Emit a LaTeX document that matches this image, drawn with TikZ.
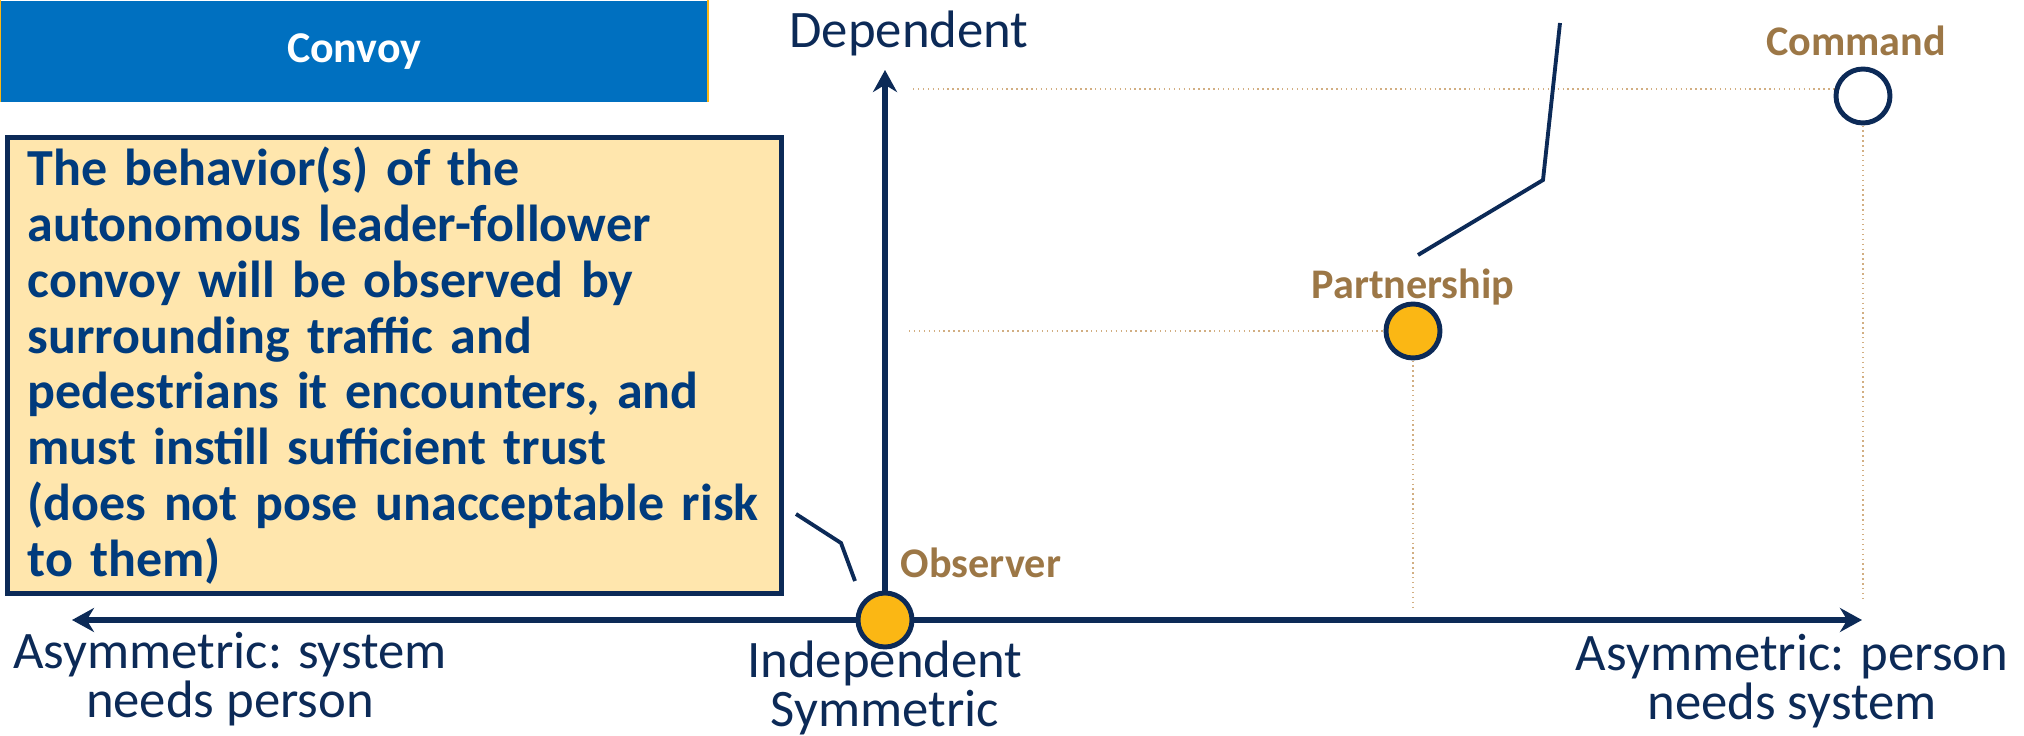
\documentclass[tikz,border=0pt]{standalone}
\usepackage{fontspec}
\setmainfont{Carlito}
\usetikzlibrary{arrows.meta}
\definecolor{navy}{HTML}{0C2A57}
\definecolor{boxblue}{HTML}{0070C0}
\definecolor{amber}{HTML}{FBB714}
\definecolor{tan}{HTML}{9C7746}
\definecolor{cream}{HTML}{FFE6AD}
\definecolor{textblue}{HTML}{003B7D}
\definecolor{guide}{HTML}{D2AE82}
\begin{document}
\begin{tikzpicture}[x=0.1mm,y=-0.1mm,inner sep=0,
	dot/.style={circle,draw=navy,line width=1.4pt,minimum size=5.4mm,fill=amber},
	mode/.style={text=tan,font=\fontsize{12}{14}\selectfont\bfseries},
	axislabel/.style={text=navy,align=center,font=\fontsize{15}{14}\selectfont},
	guideline/.style={guide,line width=0.4pt,densely dotted},
	callout/.style={navy,line width=1.1pt}]
		\useasboundingbox (0,0) rectangle (2024,736);
		\node[fill=boxblue,anchor=north west,minimum width=70.7mm,minimum height=10.1mm,text=white,font=\fontsize{12.5}{14}\selectfont\bfseries] (T) at (0,0) {Convoy};
		\draw[amber,line width=0.6pt] (T.north west)--(T.south west) (T.north east)--(T.south east);
		\node[draw=navy,fill=cream,line width=1.5pt,anchor=north west,minimum height=45.6mm,inner xsep=2mm,text width=73.4mm,align=left,text=textblue,font=\fontsize{14.8}{15.9}\selectfont\bfseries] (B) at (5,135) {The behavior(s) of the\\autonomous leader-follower\\convoy will be observed by\\surrounding traffic and\\pedestrians it encounters, and\\must instill sufficient trust\\(does not pose unacceptable risk\\to them)};
		\coordinate(o) at(885,620);
		\coordinate(l) at(72,620);
		\coordinate(r) at(1862,620);
		\coordinate(u) at(885,70);
		\coordinate(p) at(1413,331);
		\coordinate(c) at(1863,96);
		\draw[guideline] (909,331)--(p);
		\draw[guideline] (p)--(1413,607);
		\draw[guideline] (913,89)--(1838,89);
		\draw[guideline] (c)--(1863,600);
		\draw[navy,line width=1.5pt,{Stealth[length=2.2mm,width=2.4mm]}-{Stealth[length=2.2mm,width=2.4mm]}] (l)--(r);
		\draw[navy,line width=1.5pt,-{Stealth[length=2.2mm,width=2.4mm]}] (o)--(u);
		\node[dot] (O) at (o) {};
		\node[dot] (P) at (p) {};
		\node[dot,fill=white] (C) at (c) {};
		\coordinate(a1) at(1560,23);
		\coordinate(a2) at(1543,180);
		\coordinate(a3) at(1418,255);
		\coordinate(b1) at(796,514);
		\coordinate(b2) at(841,543);
		\coordinate(b3) at(855,581);
		\draw[callout] (a1)--(a2)--(a3);
		\draw[callout] (b1)--(b2)--(b3);
		\node[mode] (OL) at (981,563) {Observer};
		\node[mode] (PL) at (1413,287) {Partnership};
		\node[mode] (CL) at (1856,41) {Command};
		\node[axislabel] (DL) at (909,33) {Dependent};
		\node[axislabel] (LL) at (230,679) {Asymmetric: system\\needs person};
		\node[axislabel] (IL) at (885,688) {Independent\\Symmetric};
		\node[axislabel] (RL) at (1792,681) {Asymmetric: person\\needs system};
	\end{tikzpicture}
\end{document}
